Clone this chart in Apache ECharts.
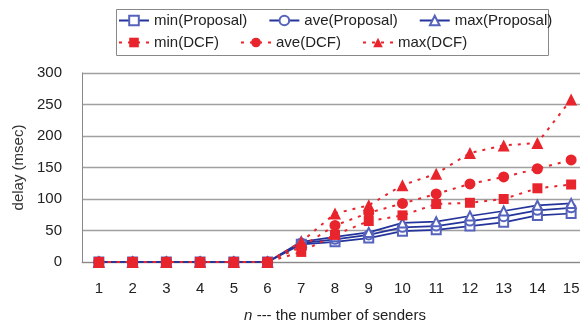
<!DOCTYPE html>
<html>
<head>
<meta charset="utf-8">
<script src="https://cdn.jsdelivr.net/npm/echarts@6/dist/echarts.min.js"></script>
<style>
  html, body { margin: 0; padding: 0; background: #fff; }
  #main { width: 580px; height: 321px; }
</style>
</head>
<body>
<div id="main"></div>
<script>
  // senders n
  var senders = ['1', '2', '3', '4', '5', '6', '7', '8', '9', '10', '11', '12', '13', '14', '15'];
  var yTicks = [0, 50, 100, 150, 200, 250, 300];

  // delay (msec)
  var minProposal = [0, 0, 0, 0, 0, 0, 28, 32, 38, 49, 51, 57, 63, 74, 77];
  var aveProposal = [0, 0, 0, 0, 0, 0, 30, 36, 43, 55, 57, 65, 72, 82, 86];
  var maxProposal = [0, 0, 0, 0, 0, 0, 32, 40, 47, 62, 64, 73, 81, 90, 93];
  var minDCF = [0, 0, 0, 0, 0, 0, 16, 43, 65, 74, 92, 94, 100, 117, 123];
  var aveDCF = [0, 0, 0, 0, 0, 0, 24, 58, 78, 93, 108, 124, 135, 148, 162];
  var maxDCF = [0, 0, 0, 0, 0, 0, 32, 77, 90, 122, 140, 173, 185, 189, 258];

  var blue = '#24349a'
  var blueMark = '#5563bd'
  var red = '#e8242c'
  var font = 'Liberation Sans, Arial, sans-serif'

  function proposal(name, data, symbol) {
    return {
      name: name,
      type: 'line',
      data: data,
      symbol: symbol,
      symbolSize: 9,
      z: 2,
      lineStyle: { color: blue, width: 1.7 },
      itemStyle: { color: blueMark, borderWidth: 1 }
    }
  }

  function dcf(name, data, symbol, size) {
    return {
      name: name,
      type: 'line',
      data: data,
      symbol: symbol,
      symbolSize: size,
      z: 3,
      lineStyle: { color: red, width: 2, type: [3, 6] },
      itemStyle: { color: red }
    }
  }

  // legend row, text boxes fixed so both rows line up in columns
  function legendRow(top, names) {
    return {
      left: 118,
      top: top,
      padding: 0,
      itemGap: 21,
      itemWidth: 30,
      itemHeight: 12,
      textStyle: { fontSize: 15, color: '#222', width: 94, fontFamily: font },
      data: names
    }
  }

  var chart = echarts.init(document.getElementById('main'))
  chart.setOption({
    animation: false,
    textStyle: { fontFamily: font },
    graphic: [{
      type: 'rect',
      left: 114,
      top: 7,
      shape: { width: 432, height: 46 },
      style: { fill: 'none', stroke: '#888', lineWidth: 1 }
    }],
    legend: [
      legendRow(13, ['min(Proposal)', 'ave(Proposal)', 'max(Proposal)']),
      legendRow(35, ['min(DCF)', 'ave(DCF)', 'max(DCF)'])
    ],
    grid: {
      left: 82,
      right: -8,
      top: 73,
      bottom: 59,
      outerBoundsMode: 'none'
    },
    xAxis: {
      type: 'category',
      data: senders,
      boundaryGap: true,
      name: '{i|n} --- the number of senders',
      nameLocation: 'middle',
      nameGap: 46,
      nameTextStyle: {
        fontSize: 15,
        color: '#222',
        rich: { i: { fontStyle: 'italic', fontSize: 15, color: '#222' } }
      },
      axisLine: { lineStyle: { color: '#888' } },
      axisTick: { inside: true, length: 5, lineStyle: { color: '#666' } },
      axisLabel: { fontSize: 15, color: '#222', margin: 19 },
      splitLine: { show: false }
    },
    yAxis: {
      type: 'value',
      min: yTicks[0],
      max: yTicks[yTicks.length - 1],
      interval: 50,
      name: 'delay (msec)',
      nameLocation: 'middle',
      nameGap: 54,
      nameTextStyle: { fontSize: 15, color: '#333' },
      axisLine: { show: true, lineStyle: { color: '#888' } },
      axisTick: { show: false },
      axisLabel: { fontSize: 15, color: '#222', margin: 20 },
      splitLine: { lineStyle: { color: '#a0a0a0', width: 1.4 } }
    },
    series: [
      proposal('min(Proposal)', minProposal, 'emptyRect'),
      proposal('ave(Proposal)', aveProposal, 'emptyCircle'),
      proposal('max(Proposal)', maxProposal, 'emptyTriangle'),
      dcf('min(DCF)', minDCF, 'rect', 10),
      dcf('ave(DCF)', aveDCF, 'circle', 11),
      dcf('max(DCF)', maxDCF, 'triangle', 12)
    ]
  })
</script>
</body>
</html>
